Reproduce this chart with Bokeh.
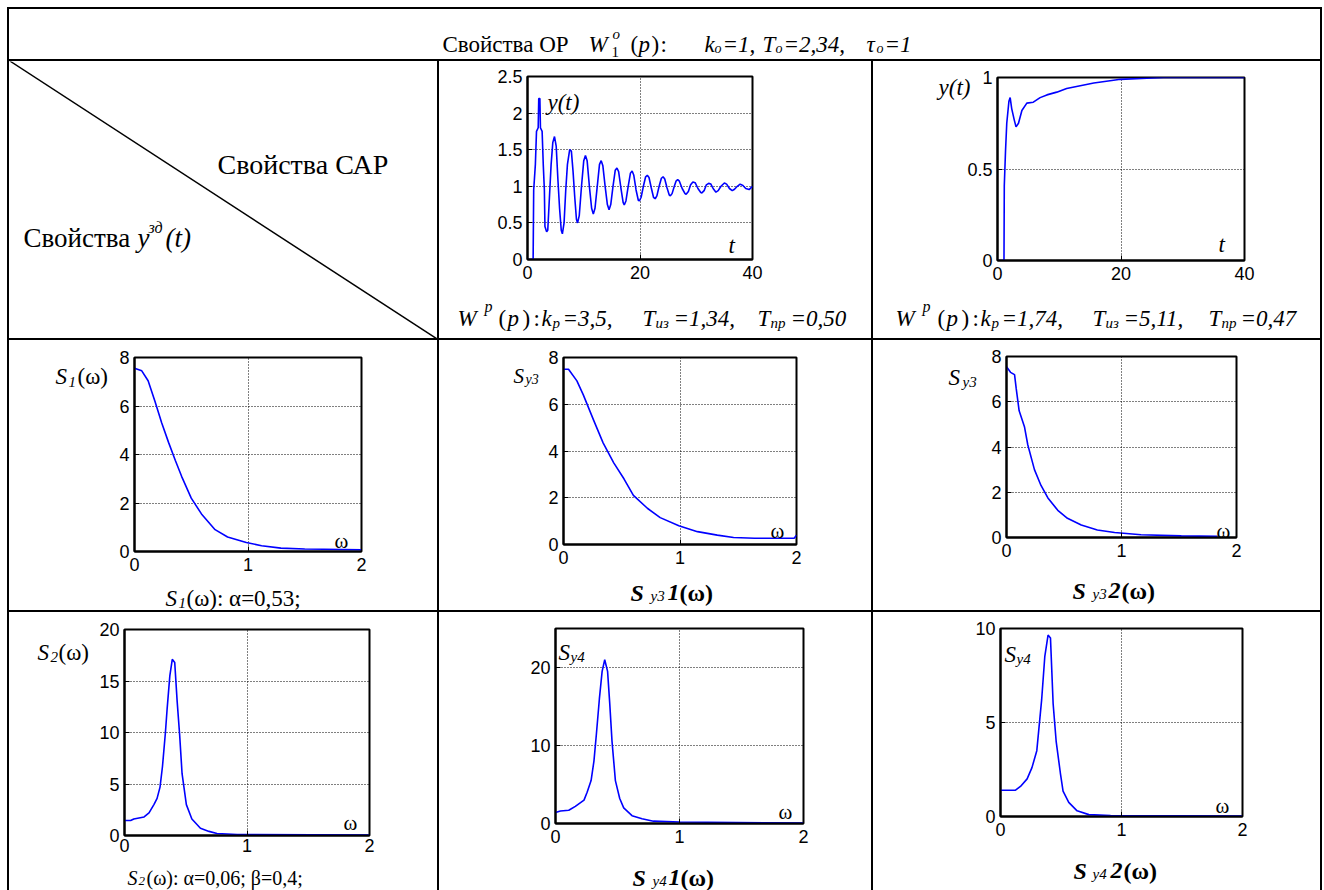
from bokeh.plotting import figure
from bokeh.models import Range1d, Label, FixedTicker, Spacer, Div, LinearAxis
from bokeh.layouts import row, column
from bokeh.embed import file_html
from bokeh.resources import INLINE
from bokeh.core.properties import value

SERIF = "Liberation Serif"
SANS = "Liberation Sans"
BLUE = "#0000ff"

# ---------------- data ----------------
# step response, controller 1
t1 = [0, 1.0, 1.1, 1.4, 1.6, 1.9, 2.0, 2.2, 2.3, 2.6, 2.8, 3.0, 3.1, 3.4, 3.6, 3.9, 4.2, 4.5, 4.8, 5.1,
      5.4, 5.7, 6.0, 6.2, 6.5, 6.8, 7.1, 7.5, 7.8, 8.1, 8.4, 8.7, 8.9, 9.2, 9.6, 10.0, 10.3, 10.6, 11.0,
      11.4, 11.7, 12.0, 12.4, 12.8, 13.1, 13.4, 13.8, 14.2, 14.5, 14.8, 15.2, 15.6, 15.9, 16.2, 16.6,
      17.0, 17.2, 17.5, 17.9, 18.3, 18.6, 18.9, 19.3, 19.7, 19.9, 20.2, 20.6, 21.0, 21.3, 21.6, 22.0,
      22.4, 22.7, 23.0, 23.4, 23.8, 24.1, 24.4, 24.8, 25.2, 25.4, 25.7, 26.1, 26.4, 26.7, 27.0, 27.5,
      28.0, 28.2, 28.6, 29.0, 29.4, 29.8, 30.3, 30.8, 31.0, 31.4, 31.8, 32.2, 32.6, 33.0, 33.5, 33.9,
      34.4, 35.0, 35.4, 35.9, 36.4, 36.8, 37.3, 37.8, 38.3, 38.8, 39.4, 40.0]
y1 = [0, 0, 0.95, 1.3, 1.75, 1.8, 2.2, 2.2, 1.8, 1.75, 1.3, 0.95, 0.45, 0.38, 0.4, 0.85, 1.3, 1.6, 1.68, 1.55,
      1.1, 0.7, 0.4, 0.35, 0.5, 0.95, 1.3, 1.5, 1.48, 1.2, 0.85, 0.55, 0.5, 0.6, 1.0, 1.35, 1.42, 1.35, 1.0,
      0.7, 0.62, 0.7, 1.0, 1.3, 1.35, 1.28, 1.0, 0.75, 0.68, 0.75, 1.0, 1.22, 1.25, 1.2, 0.98,
      0.78, 0.745, 0.8, 1.0, 1.18, 1.21, 1.15, 0.95, 0.81, 0.8, 0.85, 1.0, 1.13, 1.15, 1.12, 0.98,
      0.85, 0.83, 0.87, 1.0, 1.11, 1.13, 1.1, 0.98, 0.88, 0.87, 0.9, 1.0, 1.07, 1.09, 1.07, 0.97,
      0.9, 0.89, 0.93, 1.02, 1.06, 1.05, 0.97, 0.915, 0.91, 0.94, 1.02, 1.04, 1.03, 0.97, 0.92, 0.94,
      1.0, 1.045, 1.03, 0.97, 0.94, 0.96, 1.0, 1.03, 1.01, 0.97, 0.955, 1.0]
# step response, controller 2
t2 = [0, 1.05, 1.1, 1.3, 1.5, 1.85, 2.05, 2.3, 2.7, 3.0, 3.4, 3.95, 4.75, 5.8, 6.9, 8.0, 9.6, 11.2,
      13.4, 15.6, 18.8, 19.9, 24.2, 26.9, 40]
y2 = [0, 0, 0.41, 0.6, 0.75, 0.87, 0.89, 0.83, 0.77, 0.73, 0.75, 0.82, 0.86, 0.865, 0.89, 0.905, 0.92, 0.94,
      0.955, 0.97, 0.985, 0.99, 0.996, 1.0, 1.0]
# S1(w)
w3 = [0, 0.064, 0.12, 0.18, 0.24, 0.3, 0.36, 0.415, 0.5, 0.59, 0.71, 0.82, 0.985, 1.12, 1.29, 1.5, 2.0]
s3 = [7.56, 7.45, 7.04, 6.2, 5.3, 4.5, 3.75, 3.1, 2.2, 1.55, 0.9, 0.6, 0.37, 0.24, 0.14, 0.1, 0.07]
# Sy3 1
w4 = [0, 0.043, 0.115, 0.17, 0.26, 0.34, 0.43, 0.52, 0.6, 0.72, 0.83, 0.99, 1.15, 1.32, 1.46, 1.64, 1.98, 2.0]
s4 = [7.5, 7.5, 7.0, 6.4, 5.3, 4.35, 3.5, 2.8, 2.1, 1.55, 1.15, 0.8, 0.55, 0.4, 0.3, 0.27, 0.27, 0.4]
# Sy3 2
w5 = [0, 0.035, 0.07, 0.084, 0.11, 0.156, 0.185, 0.243, 0.3, 0.36, 0.446, 0.53, 0.65, 0.79, 0.94, 1.17, 1.52, 1.835]
s5 = [7.55, 7.3, 7.2, 6.6, 5.6, 4.9, 4.1, 3.0, 2.3, 1.75, 1.2, 0.85, 0.55, 0.33, 0.22, 0.12, 0.07, 0.05]
# S2(w)
w6 = [0, 0.05, 0.076, 0.16, 0.2, 0.24, 0.266, 0.29, 0.31, 0.334, 0.348, 0.37, 0.39, 0.41, 0.43, 0.45, 0.47,
      0.505, 0.55, 0.62, 0.69, 0.755, 0.92, 2.0]
s6 = [1.45, 1.45, 1.6, 1.8, 2.2, 3.0, 3.6, 4.7, 6.7, 10.0, 12.3, 15.5, 17.1, 16.8, 13.0, 9.8, 6.0,
      3.0, 1.6, 0.7, 0.4, 0.2, 0.1, 0.05]
# Sy4 1
w7 = [0, 0.04, 0.107, 0.16, 0.23, 0.255, 0.287, 0.31, 0.33, 0.354, 0.376, 0.397, 0.42, 0.437, 0.456, 0.483,
      0.518, 0.55, 0.617, 0.698, 0.79, 1.0, 2.0]
s7 = [1.4, 1.6, 1.7, 2.2, 3.0, 4.0, 5.5, 8.0, 11.5, 16.0, 19.5, 21.0, 19.5, 15.5, 10.5, 5.5,
      3.2, 2.0, 1.0, 0.6, 0.3, 0.2, 0.05]
# Sy4 2
w8 = [0, 0.124, 0.165, 0.22, 0.26, 0.3, 0.34, 0.366, 0.393, 0.413, 0.435, 0.46, 0.495, 0.517, 0.564, 0.633,
      0.73, 0.91, 2.0]
s8 = [1.4, 1.4, 1.6, 2.0, 2.6, 3.5, 6.2, 8.5, 9.65, 9.5, 6.0, 4.0, 2.3, 1.35, 0.75, 0.3, 0.1, 0.05, 0.02]

# tick values and labels
t_ticks = [0, 20, 40]
t_labels = ["0", "20", "40"]
w_ticks = [0, 1, 2]
w_labels = ["0", "1", "2"]
y1_ticks = [0, 0.5, 1, 1.5, 2, 2.5]
y1_labels = ["0", "0.5", "1", "1.5", "2", "2.5"]
y2_ticks = [0, 0.5, 1]
y2_labels = ["0", "0.5", "1"]
s8_ticks = [0, 2, 4, 6, 8]
s8_labels = ["0", "2", "4", "6", "8"]
s20_ticks = [0, 5, 10, 15, 20]
s20_labels = ["0", "5", "10", "15", "20"]
s25_ticks = [0, 10, 20]
s25_labels = ["0", "10", "20"]
s10_ticks = [0, 5, 10]
s10_labels = ["0", "5", "10"]

# ---------------- geometry ----------------
COLX = [(9, 437), (439, 871), (873, 1320)]
ROW1 = (9, 59)
ROW2 = (61, 338)
ROW3 = (340, 610)
ROW4 = (612, 890)
TICK_FONT = "18px"


def no_align(p):
    if "frame_align" in p.properties():
        p.frame_align = False
    return p


def bar(w, h):
    return Div(text="", width=w, height=h, margin=0, styles={"background-color": "black"})


def text_cell(x0, x1, y0, y1):
    p = figure(width=x1 - x0, height=y1 - y0, x_range=Range1d(x0, x1), y_range=Range1d(0, y1 - y0),
               min_border_left=0, min_border_right=0, min_border_top=0, min_border_bottom=0,
               title=None, toolbar_location=None, x_axis_location=None, y_axis_location=None,
               output_backend="svg", outline_line_color=None)
    p.grid.visible = False
    p.tags = [y1]
    return no_align(p)


def txt(p, items):
    ybot = p.tags[0]
    for (s, x, y, size, style) in items:
        p.text(x=[x], y=[ybot - y], text=[s], text_font=value(SERIF), text_font_size=f"{size}px",
               text_font_style=style, text_baseline="alphabetic", text_align="left", text_color="black")


def make_plot(px0, px1, py0, py1, frame, xr, yr, xt, xtl, yt, ytl, xs, ys, xstand=6):
    L, R, T, B = frame
    p = figure(width=px1 - px0, height=py1 - py0, x_range=Range1d(*xr), y_range=Range1d(*yr),
               min_border_left=L - px0, min_border_right=px1 - R, min_border_top=T - py0,
               min_border_bottom=py1 - B, title=None, toolbar_location=None, output_backend="svg")
    no_align(p)
    p.outline_line_color = "black"
    p.outline_line_width = 2
    p.outline_line_alpha = 1
    for ax, ticks, labels, stand in ((p.xaxis[0], xt, xtl, xstand), (p.yaxis[0], yt, ytl, 5)):
        ax.ticker = FixedTicker(ticks=ticks)
        ax.major_label_overrides = {k: v for k, v in zip(ticks, labels)}
        ax.axis_line_color = "black"
        ax.axis_line_width = 2
        ax.major_tick_in = 5
        ax.major_tick_out = 0
        ax.major_tick_line_color = "black"
        ax.minor_tick_line_color = None
        ax.major_label_text_font = SANS
        ax.major_label_text_font_size = TICK_FONT
        ax.major_label_text_color = "black"
        ax.major_label_standoff = stand
    for g in p.grid:
        g.grid_line_color = "black"
        g.grid_line_dash = "1 2"
        g.grid_line_width = 1
        g.grid_line_alpha = 1
    p.line(xs, ys, line_color=BLUE, line_width=1.6)
    return p


def put(p, frame, xr, yr, items):
    L, R, T, B = frame
    for (s, px, py, size, style) in items:
        x = xr[0] + (px - L) / (R - L) * (xr[1] - xr[0])
        y = yr[0] + (B - py) / (B - T) * (yr[1] - yr[0])
        p.add_layout(Label(x=x, y=y, text=s, text_font=SERIF, text_font_size=f"{size}px",
                           text_font_style=style, text_baseline="alphabetic", text_align="left",
                           text_color="black"))


def plot_cell(cx, cy, frame, xr, yr, xt, xtl, yt, ytl, xs, ys, inside, caption, left=None, split_x=None,
              below=27, xstand=6):
    L, R, T, B = frame
    split_y = B + below
    px0 = split_x if split_x else cx[0]
    p = make_plot(px0, cx[1], cy[0], split_y, frame, xr, yr, xt, xtl, yt, ytl, xs, ys, xstand)
    put(p, frame, xr, yr, inside)
    if split_x:
        lf = text_cell(cx[0], split_x, cy[0], split_y)
        txt(lf, left)
        top = row(lf, p)
    else:
        top = p
    cap = text_cell(cx[0], cx[1], split_y, cy[1])
    txt(cap, caption)
    return column(top, cap), p


# ---------------- title row ----------------
title = text_cell(9, 1320, ROW1[0], ROW1[1])
txt(title, [
    ("Свойства ОР", 442, 44, 23, "normal"),
    ("W", 588, 44, 23, "italic"),
    ("o", 612, 33, 15, "italic"),
    ("1", 611, 51, 15, "normal"),
    ("(", 630, 44, 23, "normal"),
    ("p", 638, 44, 23, "italic"),
    (")", 651, 44, 23, "normal"),
    (":", 660, 44, 23, "normal"),
    ("k", 704, 44, 23, "italic"),
    ("o", 714, 48, 14, "italic"),
    ("=1,", 722, 44, 23, "italic"),
    ("T", 762, 44, 23, "italic"),
    ("o", 775, 48, 14, "italic"),
    ("=2,34,", 783, 44, 23, "italic"),
    ("τ", 866, 44, 23, "italic"),
    ("o", 876, 48, 14, "italic"),
    ("=1", 884, 44, 23, "italic"),
])

# ---------------- header cell with diagonal ----------------
diag = text_cell(COLX[0][0], COLX[0][1], ROW2[0], ROW2[1])
diag.line(x=[7, 439], y=[ROW2[1] - 59, ROW2[1] - 340], line_color="black", line_width=1.5)
txt(diag, [
    ("Свойства САР", 217, 164, 28, "normal"),
    ("Свойства", 23, 237, 27, "normal"),
    ("y", 137, 237, 27, "italic"),
    ("зд", 148, 227, 16, "italic"),
    ("(t)", 165, 237, 27, "italic"),
])

# ---------------- plots ----------------
F1 = (527, 752, 76, 259)
c1, p1 = plot_cell(COLX[1], ROW2, F1, (0, 40), (0, 2.5), t_ticks, t_labels, y1_ticks, y1_labels, t1, y1,
                   [("y(t)", 547, 102, 23, "italic"), ("t", 728, 245, 23, "italic")],
                   [("W", 457, 318, 23, "italic"), ("p", 484, 306, 16, "italic"),
                    ("(", 498, 318, 23, "normal"), ("p", 507, 318, 23, "italic"), (")", 522, 318, 23, "normal"),
                    (":", 533, 318, 23, "normal"), ("k", 541, 318, 23, "italic"), ("p", 552, 322, 15, "italic"),
                    ("=3,5,", 562, 318, 23, "italic"),
                    ("T", 642, 318, 23, "italic"), ("из", 655, 322, 15, "italic"),
                    ("=1,34,", 673, 318, 23, "italic"),
                    ("T", 757, 318, 23, "italic"), ("пр", 770, 322, 15, "italic"),
                    ("=0,50", 790, 318, 23, "italic")])

F2 = (997, 1244, 77, 260)
c2, p2 = plot_cell(COLX[2], ROW2, F2, (0, 40), (0, 1), t_ticks, t_labels, y2_ticks, y2_labels, t2, y2,
                   [("t", 1218, 244, 23, "italic")],
                   [("W", 895, 318, 23, "italic"), ("p", 922, 306, 16, "italic"),
                    ("(", 937, 318, 23, "normal"), ("p", 946, 318, 23, "italic"), (")", 961, 318, 23, "normal"),
                    (":", 972, 318, 23, "normal"), ("k", 980, 318, 23, "italic"), ("p", 991, 322, 15, "italic"),
                    ("=1,74,", 1001, 318, 23, "italic"),
                    ("T", 1092, 318, 23, "italic"), ("из", 1105, 322, 15, "italic"),
                    ("=5,11,", 1123, 318, 23, "italic"),
                    ("T", 1208, 318, 23, "italic"), ("пр", 1221, 322, 15, "italic"),
                    ("=0,47", 1240, 318, 23, "italic")])
# "y(t)" label of the second response, set as an outer left axis label at the top of the frame
y2_label_at = 0.945
ylab = LinearAxis(ticker=FixedTicker(ticks=[y2_label_at]), major_label_overrides={y2_label_at: "y(t)"},
                  axis_line_color=None, major_tick_line_color=None, minor_tick_line_color=None,
                  major_label_text_font=SERIF, major_label_text_font_style="italic",
                  major_label_text_font_size="23px", major_label_text_color="black",
                  major_label_standoff=-12)
p2.add_layout(ylab, "left")

F3 = (133, 361, 357, 551)
c3, p3 = plot_cell(COLX[0], ROW3, F3, (0, 2), (0, 8), w_ticks, w_labels, s8_ticks, s8_labels, w3, s3,
                   [("ω", 334, 540, 21, "normal")],
                   [("S", 165, 598, 23, "italic"), ("1", 178, 602, 15, "italic"),
                    ("(ω): α=0,53;", 186, 598, 23, "normal")],
                   left=[("S", 55, 376, 23, "italic"), ("1", 68, 381, 15, "italic"),
                         ("(ω)", 77, 376, 23, "normal")],
                   split_x=116)

F4 = (563, 796, 357, 544)
c4, p4 = plot_cell(COLX[1], ROW3, F4, (0, 2), (0, 8), w_ticks, w_labels, s8_ticks, s8_labels, w4, s4,
                   [("ω", 770, 530, 21, "normal")],
                   [("S", 630, 592, 24, "bold italic"), ("y3", 650, 595, 15, "italic"),
                    ("1", 667, 592, 24, "bold italic"), ("(ω)", 679, 592, 24, "bold")],
                   left=[("S", 513, 375, 21, "italic"), ("y3", 525, 379, 14, "italic")],
                   split_x=544)

F5 = (1005, 1236, 356, 537)
c5, p5 = plot_cell(COLX[2], ROW3, F5, (0, 2), (0, 8), w_ticks, w_labels, s8_ticks, s8_labels, w5, s5,
                   [("ω", 1216, 530, 21, "normal")],
                   [("S", 1072, 590, 24, "bold italic"), ("y3", 1092, 593, 15, "italic"),
                    ("2", 1108, 590, 24, "bold italic"), ("(ω)", 1121, 590, 24, "bold")],
                   left=[("S", 948, 377, 23, "italic"), ("y3", 962, 381, 15, "italic")],
                   split_x=988)

F6 = (124, 369, 629, 835)
c6, p6 = plot_cell(COLX[0], ROW4, F6, (0, 2), (0, 20), w_ticks, w_labels, s20_ticks, s20_labels, w6, s6,
                   [("ω", 343, 822, 21, "normal")],
                   [("S", 127, 877, 20, "italic"), ("2", 138, 880, 13, "italic"),
                    ("(ω): α=0,06; β=0,4;", 146, 877, 20, "normal")],
                   left=[("S", 37, 652, 23, "italic"), ("2", 50, 656, 15, "italic"),
                         ("(ω)", 58, 652, 23, "normal")],
                   split_x=94, below=24, xstand=3)

F7 = (555, 803, 628, 823)
c7, p7 = plot_cell(COLX[1], ROW4, F7, (0, 2), (0, 25), w_ticks, w_labels, s25_ticks, s25_labels, w7, s7,
                   [("S", 558, 652, 23, "italic"), ("y4", 570, 656, 15, "italic"),
                    ("ω", 778, 811, 21, "normal")],
                   [("S", 632, 877, 24, "bold italic"), ("y4", 652, 880, 15, "italic"),
                    ("1", 668, 877, 24, "bold italic"), ("(ω)", 680, 877, 24, "bold")])

F8 = (1000, 1242, 628, 816)
c8, p8 = plot_cell(COLX[2], ROW4, F8, (0, 2), (0, 10), w_ticks, w_labels, s10_ticks, s10_labels, w8, s8,
                   [("S", 1004, 654, 23, "italic"), ("y4", 1016, 658, 15, "italic"),
                    ("ω", 1215, 805, 21, "normal")],
                   [("S", 1073, 870, 24, "bold italic"), ("y4", 1092, 873, 15, "italic"),
                    ("2", 1110, 870, 24, "bold italic"), ("(ω)", 1123, 870, 24, "bold")])


# ---------------- assemble table ----------------
def trow(h, cells):
    items = [Spacer(width=7, height=h), bar(2, h)]
    for c in cells:
        items += [c, bar(2, h)]
    items.append(Spacer(width=2, height=h))
    return row(*items)


def hline():
    return row(Spacer(width=7, height=2), bar(1315, 2), Spacer(width=2, height=2))


layout = column(
    Spacer(width=1324, height=7),
    hline(),
    trow(ROW1[1] - ROW1[0], [title]),
    hline(),
    trow(ROW2[1] - ROW2[0], [diag, c1, c2]),
    hline(),
    trow(ROW3[1] - ROW3[0], [c3, c4, c5]),
    hline(),
    trow(ROW4[1] - ROW4[0], [c6, c7, c8]),
)

open("out.html", "w").write(file_html(layout, INLINE))
